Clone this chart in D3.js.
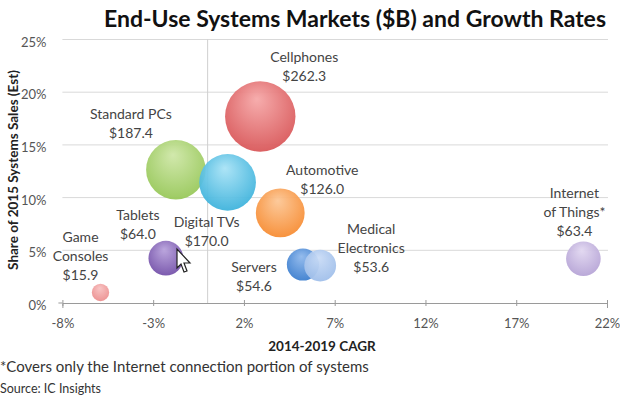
<!DOCTYPE html>
<html>
<head>
<meta charset="utf-8">
<script src="https://cdn.jsdelivr.net/npm/d3@7"></script>
<style>
  body { margin: 0; background: #fff; }
  svg { display: block; font-family: Lato, "Open Sans", sans-serif; }
</style>
</head>
<body>
<div id="chart"></div>
<script>
// market data: CAGR %, share %, size $B
const names = ["Cellphones", "Standard PCs", "Digital TVs", "Automotive", "Tablets",
  "Game Consoles", "Servers", "Medical Electronics", "Internet of Things*"];
const cagr = [2.9, -1.75, 1.1, 4.0, -2.3, -5.9, 5.25, 6.2, 20.7];
const share = [17.7, 12.65, 11.45, 8.55, 4.25, 1.0, 3.65, 3.55, 4.2];
const sales = [262.3, 187.4, 170.0, 126.0, 64.0, 15.9, 54.6, 53.6, 63.4];
const colors = [
  ["#f6a9a9", "#d9585a"], ["#cfe7a8", "#98c85a"], ["#a9e3f6", "#3fb3dc"],
  ["#fcc796", "#f78d34"], ["#b8a2dc", "#7552aa"], ["#f8c2c2", "#ec9090"],
  ["#8fb8ec", "#3d7fcf"], ["#cadcf6", "#a0bfea"], ["#e2d8f1", "#b6a4d6"]
];
// label lines and their offsets from the bubble centre (px)
const labelLines = [
  ["Cellphones", "$262.3"], ["Standard PCs", "$187.4"], ["Digital TVs", "$170.0"],
  ["Automotive", "$126.0"], ["Tablets", "$64.0"], ["Game", "Consoles", "$15.9"],
  ["Servers", "$54.6"], ["Medical", "Electronics", "$53.6"], ["Internet", "of Things*", "$63.4"]
];
const labelOffset = [[44, -59], [-45, -56], [-21, 40], [42, -43], [-28, -43],
  [-20, -55], [-49, 3], [51, -36], [-9, -66]];
const xTicks = [-8, -3, 2, 7, 12, 17, 22];
const yTicks = [0, 5, 10, 15, 20, 25];

const width = 620, height = 397;
const margin = { top: 39.5, right: 13, bottom: 94, left: 62.4 };
const w = width - margin.left - margin.right;
const h = height - margin.top - margin.bottom;

const x = d3.scaleLinear().domain([-8, 22]).range([0, w]);
const y = d3.scaleLinear().domain([0, 25]).range([h, 0]);
const r = d3.scaleSqrt().domain([0, 262.3]).range([0, 35.2]);

const svg = d3.select("#chart").append("svg")
  .attr("width", width).attr("height", height);

const defs = svg.append("defs");
colors.forEach((c, i) => {
  const g = defs.append("radialGradient").attr("id", "g" + i)
    .attr("cx", "50%").attr("cy", "40%").attr("r", "60%").attr("fx", "45%").attr("fy", "25%");
  g.append("stop").attr("offset", "0%").attr("stop-color", c[0]);
  g.append("stop").attr("offset", "100%").attr("stop-color", c[1]);
});

svg.append("text")
  .attr("x", 355).attr("y", 27)
  .attr("text-anchor", "middle")
  .attr("font-size", 23).attr("font-weight", "bold").attr("fill", "#111")
  .text("End-Use Systems Markets ($B) and Growth Rates");

const plot = svg.append("g").attr("transform", `translate(${margin.left},${margin.top})`);

// gridlines
plot.append("g").selectAll("line").data(yTicks.filter(d => d > 0)).join("line")
  .attr("x1", 0).attr("x2", w + 1)
  .attr("y1", d => y(d)).attr("y2", d => y(d))
  .attr("stroke", "#d9d9d9").attr("stroke-width", 1);

// y axis line at 0% growth
plot.append("line")
  .attr("x1", x(0)).attr("x2", x(0)).attr("y1", 0).attr("y2", h)
  .attr("stroke", "#cfcfcf").attr("stroke-width", 1);

// x axis
const xAxis = plot.append("g").attr("transform", `translate(0,${h})`)
  .call(d3.axisBottom(x).tickValues(xTicks).tickSize(5).tickFormat(d => d + "%"));
xAxis.select(".domain").attr("stroke", "#9a9a9a");
xAxis.selectAll(".tick line").attr("stroke", "#9a9a9a").attr("y1", -3).attr("y2", 3);
xAxis.selectAll("text").attr("font-size", 13).attr("fill", "#555").attr("dy", "1.3em")
  .attr("font-family", "Lato, sans-serif");

// y labels
plot.append("g").selectAll("text").data(yTicks).join("text")
  .attr("x", -16).attr("y", d => y(d)).attr("dy", "0.55em")
  .attr("text-anchor", "end").attr("font-size", 13).attr("fill", "#555")
  .text(d => d + "%");
plot.append("line").attr("x1", -4).attr("x2", 0).attr("y1", h).attr("y2", h)
  .attr("stroke", "#9a9a9a");

// bubbles, biggest first
const order = d3.range(names.length).sort((a, b) => sales[b] - sales[a]);
plot.append("g").selectAll("circle").data(order).join("circle")
  .attr("cx", i => x(cagr[i])).attr("cy", i => y(share[i]))
  .attr("r", i => r(sales[i]))
  .attr("fill", i => `url(#g${i})`)
  .attr("fill-opacity", 0.95);

// labels
const lab = plot.append("g").attr("font-size", 14).attr("fill", "#444").attr("text-anchor", "middle");
names.forEach((n, i) => {
  const cx = x(cagr[i]) + labelOffset[i][0];
  const cy = y(share[i]) + labelOffset[i][1];
  labelLines[i].forEach((t, k) => {
    lab.append("text").attr("x", cx).attr("y", cy + k * 19).attr("dy", "0.35em").text(t);
  });
});

// mouse cursor from the screenshot
svg.append("path")
  .attr("d", "M177,249 L177,268 L181,264 L184,272 L187,271 L184,263 L190,263 Z")
  .attr("fill", "#fff").attr("stroke", "#222").attr("stroke-width", 1.2);

// axis titles
svg.append("text")
  .attr("transform", "translate(13,170) rotate(-90)")
  .attr("text-anchor", "middle").attr("dy", "0.35em")
  .attr("font-size", 13.5).attr("font-weight", "bold").attr("fill", "#222")
  .text("Share of 2015 Systems Sales (Est)");
svg.append("text")
  .attr("x", 322).attr("y", 351).attr("text-anchor", "middle")
  .attr("font-size", 13.5).attr("font-weight", "bold").attr("fill", "#222")
  .text("2014-2019 CAGR");

svg.append("text").attr("x", 0).attr("y", 372)
  .attr("font-size", 15).attr("fill", "#333")
  .text("*Covers only the Internet connection portion of systems");
svg.append("text").attr("x", 0).attr("y", 393)
  .attr("font-size", 12.5).attr("fill", "#333")
  .text("Source: IC Insights");
</script>
</body>
</html>
